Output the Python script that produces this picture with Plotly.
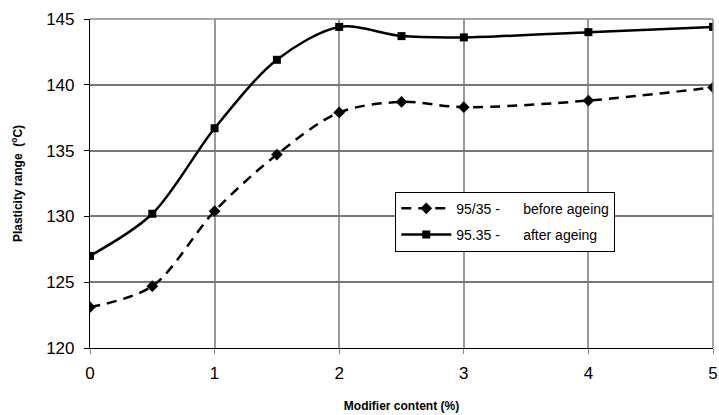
import plotly.graph_objects as go

x_vals = [0, 0.5, 1, 1.5, 2, 2.5, 3, 4, 5]
before_ageing = [123.1, 124.7, 130.4, 134.7, 137.9, 138.7, 138.3, 138.8, 139.8]
after_ageing = [127.0, 130.2, 136.7, 141.9, 144.4, 143.7, 143.6, 144.0, 144.4]
name_before = "95/35 -\u00a0\u00a0\u00a0\u00a0\u00a0\u00a0before ageing"
name_after = "95.35 -\u00a0\u00a0\u00a0\u00a0\u00a0\u00a0after ageing"

FONT = "Liberation Sans, Arial, sans-serif"

fig = go.Figure()
fig.add_trace(go.Scatter(
    x=x_vals, y=before_ageing, name=name_before, mode="lines+markers",
    legendgroup="a",
    line=dict(color="black", width=2.5, dash="10px,7px", shape="spline", smoothing=0.9),
    marker=dict(symbol="diamond", size=9, color="black"),
))
fig.add_trace(go.Scatter(
    x=x_vals, y=after_ageing, name=name_after, mode="lines+markers",
    legendgroup="b",
    line=dict(color="black", width=2.5, shape="spline", smoothing=0.9),
    marker=dict(symbol="square", size=8, color="black"),
))

fig.update_layout(
    width=719, height=415,
    margin=dict(l=90, r=6, t=19, b=67),
    paper_bgcolor="white", plot_bgcolor="white",
    font=dict(family=FONT, color="black"),
    showlegend=True,
    legend=dict(
        x=0.49, y=0.475, xanchor="left", yanchor="top",
        bgcolor="white", bordercolor="black", borderwidth=1,
        font=dict(size=14, family=FONT, color="black"),
        traceorder="grouped", tracegroupgap=5, itemwidth=50,
    ),
    xaxis=dict(
        range=[0, 5], tickvals=[0, 1, 2, 3, 4, 5],
        showgrid=True, gridcolor="#999999", gridwidth=1.5,
        showline=True, linecolor="black", linewidth=1.2,
        ticks="outside", ticklen=5, tickcolor="#888888",
        tickfont=dict(size=17, family=FONT),
        ticklabelstandoff=4,
        automargin=False,
        title=dict(text="<b>Modifier content (%)</b>", font=dict(size=12, family=FONT), standoff=20),
        mirror=False, zeroline=False,
    ),
    yaxis=dict(
        range=[120, 145], tickvals=[120, 125, 130, 135, 140, 145],
        showgrid=True, gridcolor="#777777", gridwidth=1.5,
        showline=True, linecolor="black", linewidth=1.2,
        ticks="outside", ticklen=5, tickcolor="black",
        tickfont=dict(size=17, family=FONT),
        ticklabelstandoff=6,
        automargin=False,
        title=dict(text="<b>Plasticity range  (<sup>o</sup>C)</b>", font=dict(size=12, family=FONT), standoff=20),
        zeroline=False,
    ),
)

# top and right border of plot area in grey
fig.add_shape(type="line", xref="paper", yref="paper", x0=0, x1=1, y0=1, y1=1,
              line=dict(color="#888888", width=1.5))
fig.add_shape(type="line", xref="paper", yref="paper", x0=1, x1=1, y0=0, y1=1,
              line=dict(color="#888888", width=1.5))

fig.write_html("out.html")
